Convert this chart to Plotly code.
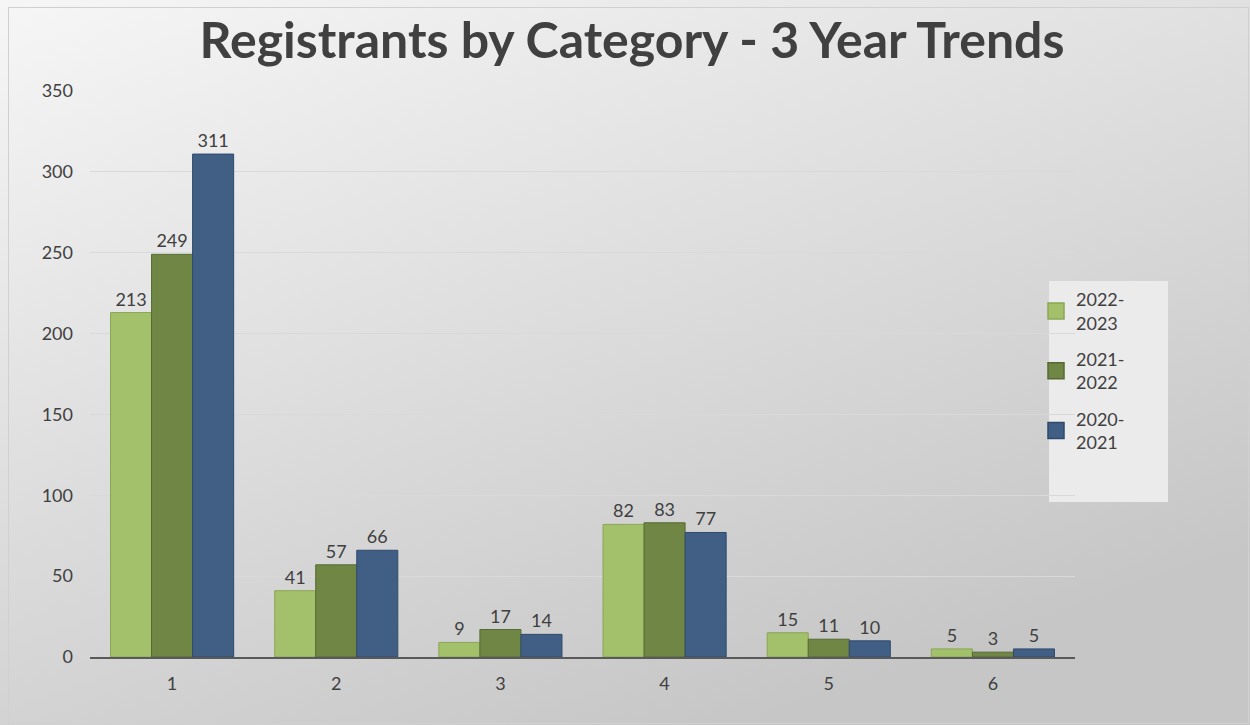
import base64
import plotly.graph_objects as go

categories = ["1", "2", "3", "4", "5", "6"]
series_names = ["2022-<br>2023", "2021-<br>2022", "2020-<br>2021"]
v_2022_2023 = [213, 41, 9, 82, 15, 5]
v_2021_2022 = [249, 57, 17, 83, 11, 3]
v_2020_2021 = [311, 66, 14, 77, 10, 5]
y_ticks = [0, 50, 100, 150, 200, 250, 300, 350]

colors = ["#a3c06a", "#6f8644", "#415f85"]
outlines = ["#8aa655", "#566b33", "#2f4a6c"]
values = [v_2022_2023, v_2021_2022, v_2020_2021]

FONT = "Lato, Open Sans, sans-serif"

fig = go.Figure()
for i, (name, vals) in enumerate(zip(series_names, values)):
    fig.add_trace(go.Bar(
        x=categories, y=vals, name=name,
        legendgroup=f"g{i}", showlegend=False,
        marker=dict(color=colors[i], line=dict(color=outlines[i], width=1)),
        text=[str(v) for v in vals], textposition="outside",
        textfont=dict(family=FONT, size=18, color="#404040"),
        cliponaxis=False,
    ))
    # legend entry with a larger square swatch
    fig.add_trace(go.Scatter(
        x=[None], y=[None], mode="markers", name=name, legendgroup=f"g{i}",
        marker=dict(symbol="square", size=16, color=colors[i],
                    line=dict(color=outlines[i], width=1.5)),
        hoverinfo="skip",
    ))

svg = ('<svg xmlns="http://www.w3.org/2000/svg" width="1250" height="725" preserveAspectRatio="none">'
       '<defs><linearGradient id="g" x1="0" y1="0" x2="0.6" y2="1">'
       '<stop offset="0" stop-color="#f6f6f6"/><stop offset="1" stop-color="#c6c6c6"/>'
       '</linearGradient></defs><rect width="1250" height="725" fill="url(#g)"/>'
       '<rect x="8.5" y="7.5" width="1240" height="716" fill="none" stroke="#d0d0d0" stroke-width="1"/></svg>')
src = "data:image/svg+xml;base64," + base64.b64encode(svg.encode()).decode()

L, R, T, B = 90, 175, 91, 68
pw, ph = 1250 - L - R, 725 - T - B

fig.update_layout(
    width=1250, height=725,
    margin=dict(l=L, r=R, t=T, b=B, pad=0),
    paper_bgcolor="#e0e0e0", plot_bgcolor="rgba(0,0,0,0)",
    images=[dict(source=src, xref="paper", yref="paper",
                 x=-L / pw, y=1 + T / ph, sizex=1250 / pw, sizey=725 / ph,
                 sizing="stretch", layer="below", xanchor="left", yanchor="top")],
    title=dict(text="<b>Registrants by Category - 3 Year Trends</b>",
               x=(632 - L) / pw, xref="paper", xanchor="center",
               y=1 - 40 / 725, yanchor="middle",
               font=dict(family=FONT, size=50, color="#404040")),
    barmode="group", bargap=0.25, bargroupgap=0,
    font=dict(family=FONT, color="#404040"),
    xaxis=dict(range=[-0.5, 5.5], showgrid=False, showline=True, linecolor="#595959",
               linewidth=2, ticks="", tickfont=dict(size=18, color="#404040"),
               ticklabelstandoff=9, zeroline=False),
    yaxis=dict(range=[0, 350], tickvals=y_ticks, showgrid=True, gridcolor="#d9d9d9",
               gridwidth=1, zeroline=False, showline=False, ticks="",
               tickfont=dict(size=18, color="#404040"), ticklabelstandoff=16),
    legend=dict(x=(1036 - L) / pw, y=(657 - 281) / ph, xanchor="left", yanchor="top",
                bgcolor="rgba(0,0,0,0)", tracegroupgap=10,
                font=dict(size=18, color="#404040"), itemwidth=30,
                traceorder="grouped", itemsizing="trace"),
    shapes=[dict(type="rect", xref="paper", yref="paper",
                 x0=(1049 - L) / pw, x1=(1168 - L) / pw,
                 y0=(657 - 502) / ph, y1=(657 - 281) / ph,
                 fillcolor="#ebebeb", line=dict(width=0), layer="below")],
)

fig.write_html("out.html")
